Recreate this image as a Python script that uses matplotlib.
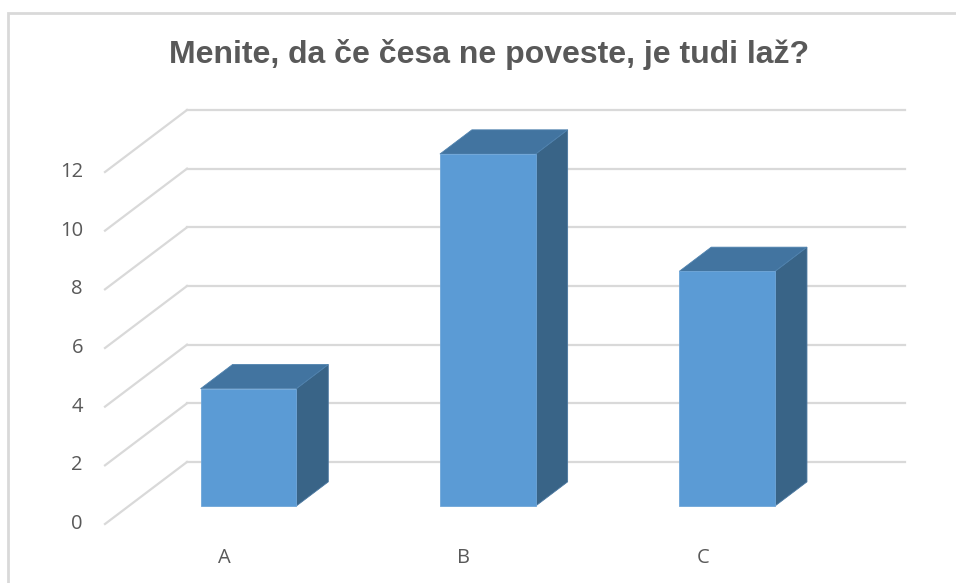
import matplotlib.pyplot as plt
from matplotlib.patches import Polygon, Rectangle

# podaci
kategorije = ["A", "B", "C"]
vrijednosti = [4, 12, 8]
y_ticks = [0, 2, 4, 6, 8, 10, 12]
naslov = "Menite, da če česa ne poveste, je tudi laž?"

plt.rcParams['font.family'] = ['Open Sans', 'DejaVu Sans']

fig = plt.figure(figsize=(9.56, 5.83), dpi=100)

# prednja ravnina: x 0..3 -> 105..823 px, y 0..12 -> 524..172 px
ax = fig.add_axes([105/956, (583-524)/583, (823-105)/956, (524-172)/583])
ax.set_xlim(0, len(kategorije))
ax.set_ylim(0, 12)
ax.axis('off')

DX = 82/239.33   # pomak dubine u jedinicama kategorije
DY = 62/29.33    # pomak dubine u jedinicama vrijednosti
grid_c = '#d9d9d9'

# mreža na stražnjem zidu i dijagonale na lijevom zidu
for v in y_ticks:
    ax.plot([DX, len(kategorije) + DX], [v + DY, v + DY], color=grid_c, lw=1.6, clip_on=False, zorder=1)
    ax.plot([0, DX], [v, v + DY], color=grid_c, lw=1.6, clip_on=False, zorder=1)
    ax.text(-0.092, v, str(v), ha='right', va='center', fontsize=14.5, color='#595959')

# 3D stupci
d0, d1 = 0.29, 0.68  # prednja i stražnja dubina stupca
w = 0.4
for i, (k, val) in enumerate(zip(kategorije, vrijednosti)):
    x0 = i + 0.5 - w/2 + d0*DX
    y0 = d0*DY
    ddx = (d1 - d0)*DX
    ddy = (d1 - d0)*DY
    front = Rectangle((x0, y0), w, val, facecolor='#5b9bd5', edgecolor='#6fa6d9', lw=0.6, clip_on=False, zorder=3)
    top = Polygon([(x0, y0 + val), (x0 + w, y0 + val), (x0 + w + ddx, y0 + val + ddy), (x0 + ddx, y0 + val + ddy)],
                  closed=True, facecolor='#4274a0', edgecolor='#4f82ae', lw=0.6, clip_on=False, zorder=3)
    side = Polygon([(x0 + w, y0), (x0 + w + ddx, y0 + ddy), (x0 + w + ddx, y0 + val + ddy), (x0 + w, y0 + val)],
                   closed=True, facecolor='#396487', edgecolor='#4a77a0', lw=0.6, clip_on=False, zorder=3)
    ax.add_patch(side)
    ax.add_patch(top)
    ax.add_patch(front)
    ax.text(i + 0.5, -1.15, k, ha='center', va='center', fontsize=14.5, color='#595959')

# okvir grafikona
fig.patches.append(Rectangle((8/956, -0.1), 1.1, (583-13)/583 + 0.1, transform=fig.transFigure,
                             fill=False, edgecolor='#d9d9d9', lw=2))

fig.text(489/956, (583-55)/583, naslov, ha='center', va='center', fontsize=23, fontweight='bold',
         color='#595959', family=['Liberation Sans Narrow', 'Liberation Sans', 'DejaVu Sans'])

plt.savefig('out.png', dpi=100)
